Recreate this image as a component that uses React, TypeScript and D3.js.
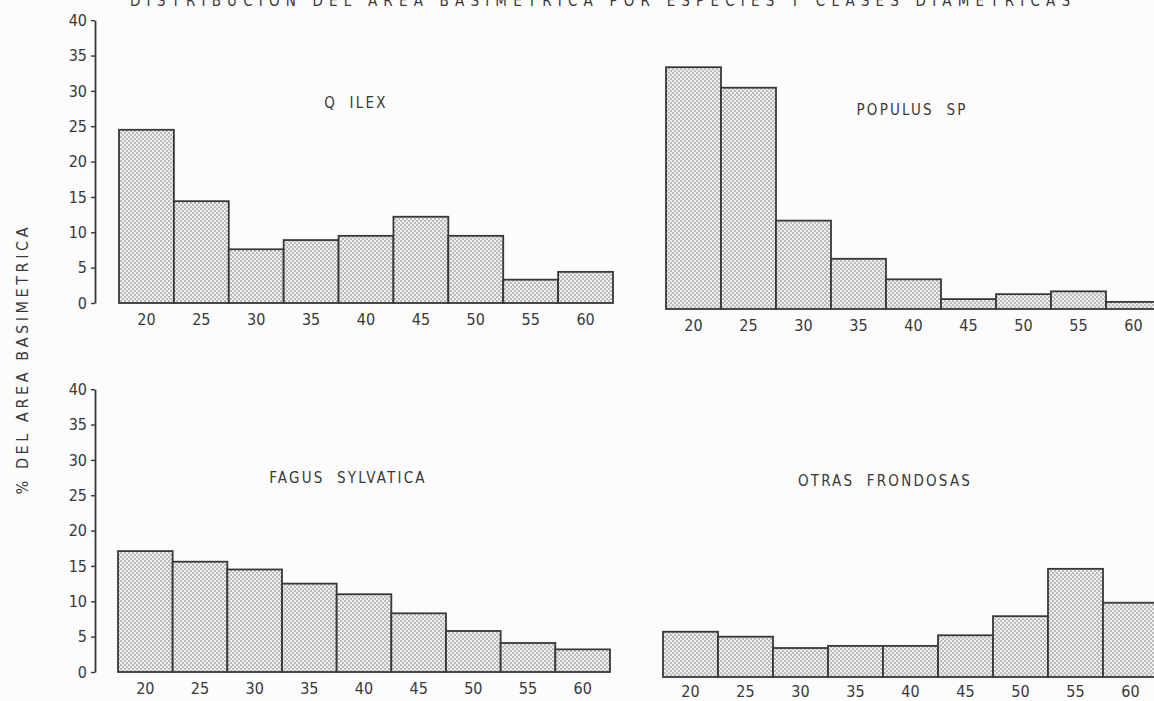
import React, { useEffect, useRef } from 'react';
import * as d3 from 'd3';

// clases diametricas (cm)
const classes = ['20', '25', '30', '35', '40', '45', '50', '55', '60'];
const yTicks = [0, 5, 10, 15, 20, 25, 30, 35, 40];

// % del area basimetrica por especie
const qIlex = [24.5, 14.4, 7.6, 8.9, 9.5, 12.2, 9.5, 3.3, 4.4];
const populus = [34.2, 31.3, 12.5, 7.1, 4.2, 1.4, 2.1, 2.5, 1.0];
const fagus = [17.1, 15.6, 14.5, 12.5, 11.0, 8.3, 5.8, 4.1, 3.2];
const otras = [6.4, 5.7, 4.1, 4.4, 4.4, 5.9, 8.6, 15.3, 10.5];

const speciesNames = ['Q ILEX', 'POPULUS SP', 'FAGUS SYLVATICA', 'OTRAS FRONDOSAS'];
const speciesValues = [qIlex, populus, fagus, otras];

// panel layout (page pixels)
const layout = [
  { x0: 119, x1: 613, base: 303, axis: true, tx: 356, ty: 108, pad: 11 },
  { x0: 666, x1: 1161, base: 309, axis: false, tx: 912, ty: 115, pad: 11 },
  { x0: 118, x1: 610, base: 672, axis: true, tx: 348, ty: 483, pad: 11 },
  { x0: 663, x1: 1158, base: 677, axis: false, tx: 885, ty: 486, pad: 9 },
];

const W = 1154;
const H = 701;
const unit = 7.07; // px per percent
const ink = '#383838';
const font = "'DejaVu Sans Condensed', 'DejaVu Sans', sans-serif";

const App = () => {
  const svgRef = useRef<SVGSVGElement>(null);

  useEffect(() => {
    const svg = d3.select(svgRef.current);
    svg.selectAll('*').remove();

    svg.append('rect').attr('width', W).attr('height', H).attr('fill', '#fcfcfc');

    // stipple fill (staggered dots)
    const pat = svg
      .append('defs')
      .append('pattern')
      .attr('id', 'dots')
      .attr('patternUnits', 'userSpaceOnUse')
      .attr('width', 4)
      .attr('height', 4);
    pat.append('rect').attr('width', 4).attr('height', 4).attr('fill', '#eeeeee');
    pat.append('circle').attr('cx', 1).attr('cy', 1).attr('r', 0.8).attr('fill', '#7c7c7c');
    pat.append('circle').attr('cx', 3).attr('cy', 3).attr('r', 0.8).attr('fill', '#7c7c7c');

    // cut-off heading at the top of the scan
    svg
      .append('text')
      .attr('x', 130)
      .attr('y', 6)
      .attr('textLength', 940)
      .attr('lengthAdjust', 'spacing')
      .attr('font-family', font)
      .attr('font-size', 15)
      .attr('fill', ink)
      .text('DISTRIBUCION DEL AREA BASIMETRICA POR ESPECIES Y CLASES DIAMETRICAS');

    // y label
    svg
      .append('text')
      .attr('transform', 'translate(28, 361) rotate(-90)')
      .attr('text-anchor', 'middle')
      .attr('textLength', 267)
      .attr('lengthAdjust', 'spacing')
      .attr('font-family', font)
      .attr('font-size', 16)
      .attr('fill', ink)
      .text('% DEL AREA BASIMETRICA');

    layout.forEach((p, i) => {
      const values = speciesValues[i];
      const x = d3.scaleBand<string>().domain(classes).range([p.x0, p.x1]).padding(0);
      const y = d3
        .scaleLinear()
        .domain([0, 40])
        .range([p.base, p.base - 40 * unit]);

      const g = svg.append('g');

      g.selectAll('rect.bar')
        .data(values)
        .enter()
        .append('rect')
        .attr('class', 'bar')
        .attr('x', (_, j) => x(classes[j]) as number)
        .attr('y', (d) => y(d))
        .attr('width', x.bandwidth())
        .attr('height', (d) => y(0) - y(d))
        .attr('fill', 'url(#dots)')
        .attr('stroke', ink)
        .attr('stroke-width', 1.8);

      // x labels
      const xAxis = g
        .append('g')
        .attr('transform', `translate(0, ${p.base})`)
        .call(d3.axisBottom(x).tickSize(0).tickPadding(p.pad));
      xAxis.select('.domain').remove();
      xAxis
        .selectAll('text')
        .attr('font-family', font)
        .attr('font-size', 16)
        .attr('fill', ink);

      if (p.axis) {
        const yAxis = g
          .append('g')
          .attr('transform', 'translate(95, 0)')
          .call(
            d3
              .axisLeft(y)
              .tickValues(yTicks)
              .tickSizeInner(4)
              .tickSizeOuter(0)
              .tickPadding(4)
          );
        yAxis.select('.domain').attr('stroke', ink).attr('stroke-width', 1.8);
        yAxis.selectAll('line').attr('stroke', ink).attr('stroke-width', 1.4);
        yAxis
          .selectAll('text')
          .attr('font-family', font)
          .attr('font-size', 16)
          .attr('fill', ink);
      }

      g.append('text')
        .attr('x', p.tx)
        .attr('y', p.ty)
        .attr('text-anchor', 'middle')
        .attr('font-family', font)
        .attr('font-size', 15)
        .attr('letter-spacing', 2.2)
        .attr('word-spacing', 6)
        .attr('fill', ink)
        .text(speciesNames[i]);
    });
  }, []);

  return (
    <svg
      ref={svgRef}
      width={W}
      height={H}
      style={{ position: 'absolute', left: 0, top: 0, display: 'block' }}
    />
  );
};

export default App;
